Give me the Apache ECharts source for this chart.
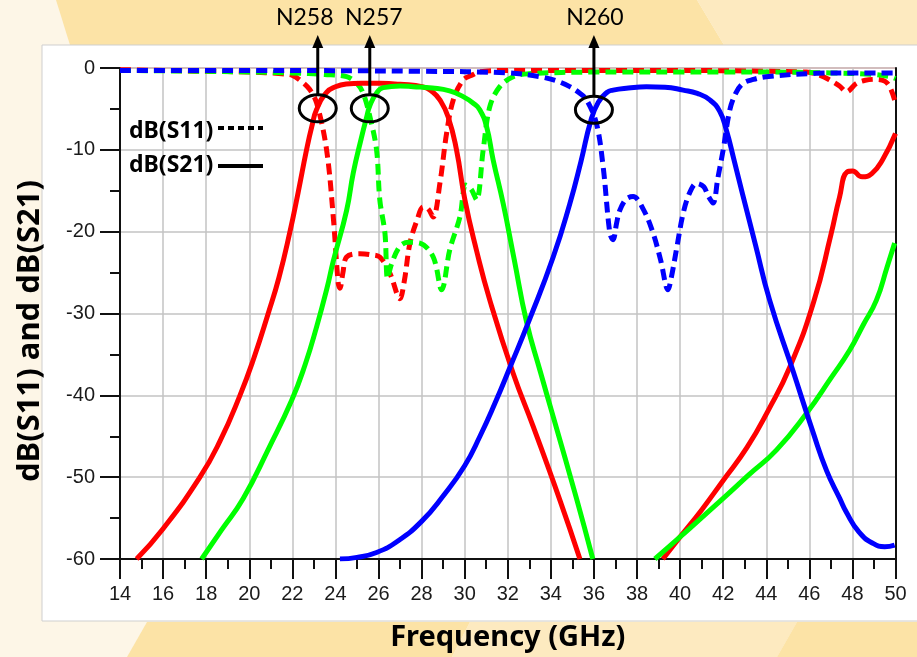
<!DOCTYPE html>
<html>
<head>
<meta charset="utf-8">
<title>Filter responses</title>
<script src="https://cdn.jsdelivr.net/npm/echarts@6/dist/echarts.min.js"></script>
<style>
  html, body { margin: 0; padding: 0; background: #fdf6e7; }
  #chart { width: 917px; height: 657px; }
</style>
</head>
<body>
<div id="chart"></div>
<script>
// Frequency axis (GHz) and magnitude axis (dB)
const freqMin = 14, freqMax = 50, freqStep = 2;
const dbMin = -60, dbMax = 0, dbStep = 10;

// N258 filter, S21 (insertion) and S11 (return loss)
const n258S21Freq = [14.77, 16.0, 17.71, 18.64, 19.57, 20.22, 20.88, 21.38, 21.89, 22.27, 22.66, 22.9, 23.13, 23.59, 24.0, 24.5, 25.2, 26.06, 27.0, 28.07, 28.5, 28.85, 29.23, 29.62, 30.01, 30.55, 31.17, 32.25, 33.18, 34.42, 35.35, 37.0, 39.2, 40.0, 41.0, 42.0, 43.1, 44.1, 45.1, 46.2, 47.0, 47.4, 47.75, 48.0, 48.45, 48.9, 49.4, 50.0];
const n258S21 = [-60, -56.3, -50.0, -45.6, -40.0, -35.4, -30.0, -25.6, -20.0, -15.2, -10.0, -7.2, -5.05, -2.98, -2.3, -1.95, -1.85, -1.87, -2.0, -2.3, -2.9, -3.9, -5.95, -10.0, -16.1, -22.3, -28.4, -37.3, -43.8, -52.8, -60, null, -60, -57.3, -54.0, -50.4, -46.4, -41.8, -36.5, -28.6, -20.4, -15.8, -12.7, -12.6, -13.3, -12.9, -11.2, -8.0];
const n258S11Freq = [14, 16, 18, 20, 21.5, 22.0, 22.35, 22.8, 23.13, 23.59, 23.9, 24.13, 24.21, 24.35, 24.52, 25.14, 25.6, 26.06, 26.53, 26.91, 26.99, 27.2, 27.46, 27.8, 28.07, 28.3, 28.54, 28.85, 29.16, 29.47, 29.93, 30.4, 30.71, 32, 36, 40, 44, 45.87, 46.5, 46.95, 47.4, 47.72, 48.19, 48.6, 49.11, 49.5, 49.73, 49.96];
const n258S11 = [-0.2, -0.3, -0.4, -0.5, -0.7, -0.9, -1.47, -2.6, -4.3, -10.0, -18.2, -26.3, -26.9, -25.0, -23.1, -22.7, -22.8, -23.1, -25.1, -28.0, -28.2, -26.0, -21.4, -18.5, -17.0, -17.2, -18.2, -14.1, -8.0, -3.9, -1.47, -0.8, -0.45, -0.3, -0.3, -0.3, -0.4, -0.5, -0.9, -1.47, -2.2, -2.9, -1.87, -1.5, -1.38, -1.6, -2.28, -3.9];

// N257 filter
const n257S21Freq = [17.79, 18.7, 19.72, 20.9, 21.97, 22.6, 23.13, 23.6, 23.9, 24.52, 24.83, 25.2, 25.45, 25.6, 25.9, 26.22, 27.0, 27.61, 28.5, 29.3, 29.93, 30.4, 30.7, 31.02, 31.32, 31.79, 32.3, 32.87, 33.5, 34.11, 35.19, 35.95, 37.5, 38.83, 40.0, 42.0, 43.2, 44.47, 45.87, 47.0, 47.87, 48.5, 49.11, 49.6, 49.96];
const n257S21 = [-60, -56.5, -52.6, -46.5, -40.6, -36.2, -31.6, -27.0, -23.6, -17.4, -12.8, -8.6, -6.0, -4.6, -3.1, -2.4, -2.2, -2.28, -2.45, -2.8, -3.5, -4.3, -5.1, -7.2, -11.2, -16.6, -23.4, -31.0, -37.0, -42.6, -52.6, -60, null, -60, -57.3, -52.6, -49.7, -46.7, -42.2, -37.9, -34.5, -31.4, -28.4, -24.4, -21.4];
const n257S11Freq = [14, 18, 22, 23.5, 24.52, 25.0, 25.29, 25.6, 25.91, 26.06, 26.3, 26.42, 26.6, 26.99, 27.4, 27.92, 28.54, 28.93, 29.31, 29.78, 30.05, 30.3, 30.55, 30.86, 31.17, 31.63, 32.25, 33, 36, 40, 44, 47, 49, 49.73, 50];
const n257S11 = [-0.3, -0.4, -0.6, -0.8, -1.06, -1.9, -3.1, -5.95, -10.0, -16.1, -20.2, -25.7, -24.0, -21.8, -21.3, -21.4, -23.1, -27.1, -22.2, -18.2, -14.3, -14.8, -16.1, -10.0, -4.7, -2.28, -1.06, -0.7, -0.5, -0.5, -0.5, -0.6, -0.8, -1.06, -1.3];

// N260 filter
const n260S21Freq = [24.21, 25.0, 25.91, 26.9, 28.0, 29.0, 30.0, 30.71, 31.4, 32.1, 33.03, 34.11, 34.88, 35.4, 35.85, 36.2, 36.6, 36.89, 37.6, 38.44, 39.3, 40.14, 40.8, 41.38, 41.84, 42.15, 42.5, 42.9, 43.5, 44.16, 45.24, 46.17, 46.8, 47.41, 47.72, 48.3, 48.96, 49.5, 49.96];
const n260S21 = [-60, -59.8, -59.2, -57.8, -55.4, -52.3, -48.6, -45.0, -41.0, -36.6, -30.6, -23.1, -16.6, -11.4, -6.5, -4.2, -3.0, -2.7, -2.45, -2.3, -2.35, -2.7, -3.1, -3.9, -5.3, -7.6, -11.2, -15.4, -21.6, -28.4, -37.0, -44.5, -49.2, -52.6, -54.3, -56.7, -58.1, -58.5, -58.3];
const n260S11Freq = [14, 20, 28, 32, 33.49, 34.3, 34.88, 35.3, 35.66, 36.12, 36.43, 36.74, 36.89, 37.05, 37.2, 37.5, 37.82, 38.3, 38.75, 39.1, 39.44, 39.6, 39.83, 40.14, 40.45, 40.76, 41.1, 41.3, 41.53, 41.75, 42.0, 42.31, 42.6, 42.92, 43.4, 44.0, 46.33, 48, 50];
const n260S11 = [-0.3, -0.3, -0.4, -0.6, -1.06, -1.6, -2.28, -3.0, -3.9, -6.8, -12.1, -20.2, -21.0, -19.0, -17.4, -16.0, -15.7, -17.3, -20.2, -23.5, -27.1, -25.5, -22.2, -17.8, -15.2, -14.1, -14.5, -15.6, -16.5, -13.5, -10.0, -5.1, -3.0, -1.87, -1.4, -1.06, -0.65, -0.6, -0.6];

// Band markers: label, data point that the ring surrounds, label centre x offset
const bandNames = ['N258', 'N257', 'N260'];
const bandRingAt = [[23.18, -4.93], [25.595, -4.93], [36.0, -5.1]];
const bandLabelShift = [-13, 4, 1];

const RED = '#ff0000', GREEN = '#00ff00', BLUE = '#0000ff';

function pairs(xs, ys) {
  return xs.map((x, i) => [x, ys[i] === null ? '-' : ys[i]]);
}

function curve(name, xs, ys, color, dashed) {
  return {
    name: name,
    type: 'line',
    data: pairs(xs, ys),
    showSymbol: false,
    smooth: dashed ? 0.35 : 0.5,
    connectNulls: false,
    clip: true,
    lineStyle: { color: color, width: 5, type: dashed ? [11, 6] : 'solid', cap: 'butt', join: 'round' },
    itemStyle: { color: color },
    emphasis: { disabled: true },
    animation: false
  };
}

const chart = echarts.init(document.getElementById('chart'), null, { renderer: 'canvas' });

const tickFont = { fontFamily: 'Liberation Sans, Arial, sans-serif', fontSize: 20, color: '#1a1a1a' };

const option = {
  backgroundColor: '#fdf6e7',
  animation: false,
  grid: { left: 120, right: 21.5, top: 68, bottom: 98, show: true, borderColor: '#ff5a5a', borderWidth: 1 },
  xAxis: {
    type: 'value', min: freqMin, max: freqMax, interval: freqStep,
    name: 'Frequency (GHz)', nameLocation: 'middle', nameGap: 64,
    nameTextStyle: { fontFamily: 'Noto Sans, sans-serif', fontWeight: 'bold', fontSize: 29, color: '#000' },
    axisLine: { show: true, onZero: false, lineStyle: { color: '#111', width: 2 } },
    axisTick: { show: true, length: 20, lineStyle: { color: '#111', width: 2 } },
    minorTick: { show: true, splitNumber: 2, length: 10, lineStyle: { color: '#111', width: 2 } },
    axisLabel: Object.assign({ margin: 25 }, tickFont),
    splitLine: { show: true, lineStyle: { color: '#c3c3c3', width: 1.5 } }
  },
  yAxis: [{
    type: 'value', min: dbMin, max: dbMax, interval: dbStep,
    axisLine: { show: true, onZero: false, lineStyle: { color: '#111', width: 2 } },
    axisTick: { show: true, length: 20, lineStyle: { color: '#111', width: 2 } },
    minorTick: { show: true, splitNumber: 2, length: 10, lineStyle: { color: '#111', width: 2 } },
    axisLabel: Object.assign({ margin: 25 }, tickFont),
    splitLine: { show: true, lineStyle: { color: '#c3c3c3', width: 1.5 } }
  }, {
    type: 'value', min: dbMin, max: dbMax, position: 'right',
    axisLine: { show: true, onZero: false, lineStyle: { color: '#111', width: 2 } },
    axisTick: { show: false }, axisLabel: { show: false }, splitLine: { show: false }
  }],
  series: [
    curve('N258 S11', n258S11Freq, n258S11, RED, true),
    curve('N257 S11', n257S11Freq, n257S11, GREEN, true),
    curve('N260 S11', n260S11Freq, n260S11, BLUE, true),
    curve('N258 S21', n258S21Freq, n258S21, RED, false),
    curve('N257 S21', n257S21Freq, n257S21, GREEN, false),
    curve('N260 S21', n260S21Freq, n260S21, BLUE, false)
  ]
};
chart.setOption(option);

// Page backdrop, white panel, vertical axis title, legend key and band markers
const deco = [
  { type: 'polygon', z: -100, silent: true, shape: { points: [[56, 0], [697, 0], [724, 45], [70, 45]] }, style: { fill: '#fce3a6' } },
  { type: 'polygon', z: -100, silent: true, shape: { points: [[697, 0], [917, 0], [917, 45], [724, 45]] }, style: { fill: '#fdeac0' } },
  { type: 'polygon', z: -100, silent: true, shape: { points: [[147, 622], [470, 622], [452, 657], [127, 657]] }, style: { fill: '#fce3a6' } },
  { type: 'polygon', z: -100, silent: true, shape: { points: [[470, 622], [797, 622], [777, 657], [452, 657]] }, style: { fill: '#fdeac0' } },
  { type: 'polygon', z: -100, silent: true, shape: { points: [[797, 622], [917, 622], [917, 657], [777, 657]] }, style: { fill: '#fce3a6' } },
  { type: 'rect', z: -90, silent: true, shape: { x: 42, y: 45, width: 880, height: 576 }, style: { fill: '#ffffff', stroke: '#cfcfcf', lineWidth: 1 } },
  { type: 'text', z: 50, x: 30, y: 331, rotation: Math.PI / 2,
    style: { x: 0, y: 0, text: 'dB(S11) and dB(S21)', fill: '#000', font: 'bold 31px "Noto Sans", sans-serif', align: 'center', verticalAlign: 'middle' } },
  { type: 'text', z: 50, style: { x: 129, y: 131, text: 'dB(S11)', fill: '#000', font: 'bold 23px "Noto Sans", sans-serif', verticalAlign: 'middle' } },
  { type: 'line', z: 50, shape: { x1: 218, y1: 128, x2: 263, y2: 128 }, style: { stroke: '#000', lineWidth: 4, lineDash: [6, 4] } },
  { type: 'text', z: 50, style: { x: 129, y: 165, text: 'dB(S21)', fill: '#000', font: 'bold 23px "Noto Sans", sans-serif', verticalAlign: 'middle' } },
  { type: 'line', z: 50, shape: { x1: 218, y1: 166, x2: 263, y2: 166 }, style: { stroke: '#000', lineWidth: 4 } }
];

bandNames.forEach((label, i) => {
  const p = chart.convertToPixel({ gridIndex: 0 }, bandRingAt[i]);
  const rx = 18.5, ry = 13.5;
  deco.push({ type: 'ellipse', z: 60, shape: { cx: p[0], cy: p[1], rx: rx, ry: ry }, style: { fill: null, stroke: '#000', lineWidth: 3 } });
  deco.push({ type: 'line', z: 60, shape: { x1: p[0], y1: p[1] - ry, x2: p[0], y2: 46 }, style: { stroke: '#000', lineWidth: 3 } });
  deco.push({ type: 'polygon', z: 60, shape: { points: [[p[0] - 5.5, 48], [p[0] + 5.5, 48], [p[0], 35]] }, style: { fill: '#000' } });
  deco.push({ type: 'text', z: 60, style: { x: p[0] + bandLabelShift[i], y: 18, text: label, fill: '#000', font: '23px Lato, sans-serif', align: 'center', verticalAlign: 'middle' } });
});

chart.setOption({ graphic: { elements: deco } });
</script>
</body>
</html>
